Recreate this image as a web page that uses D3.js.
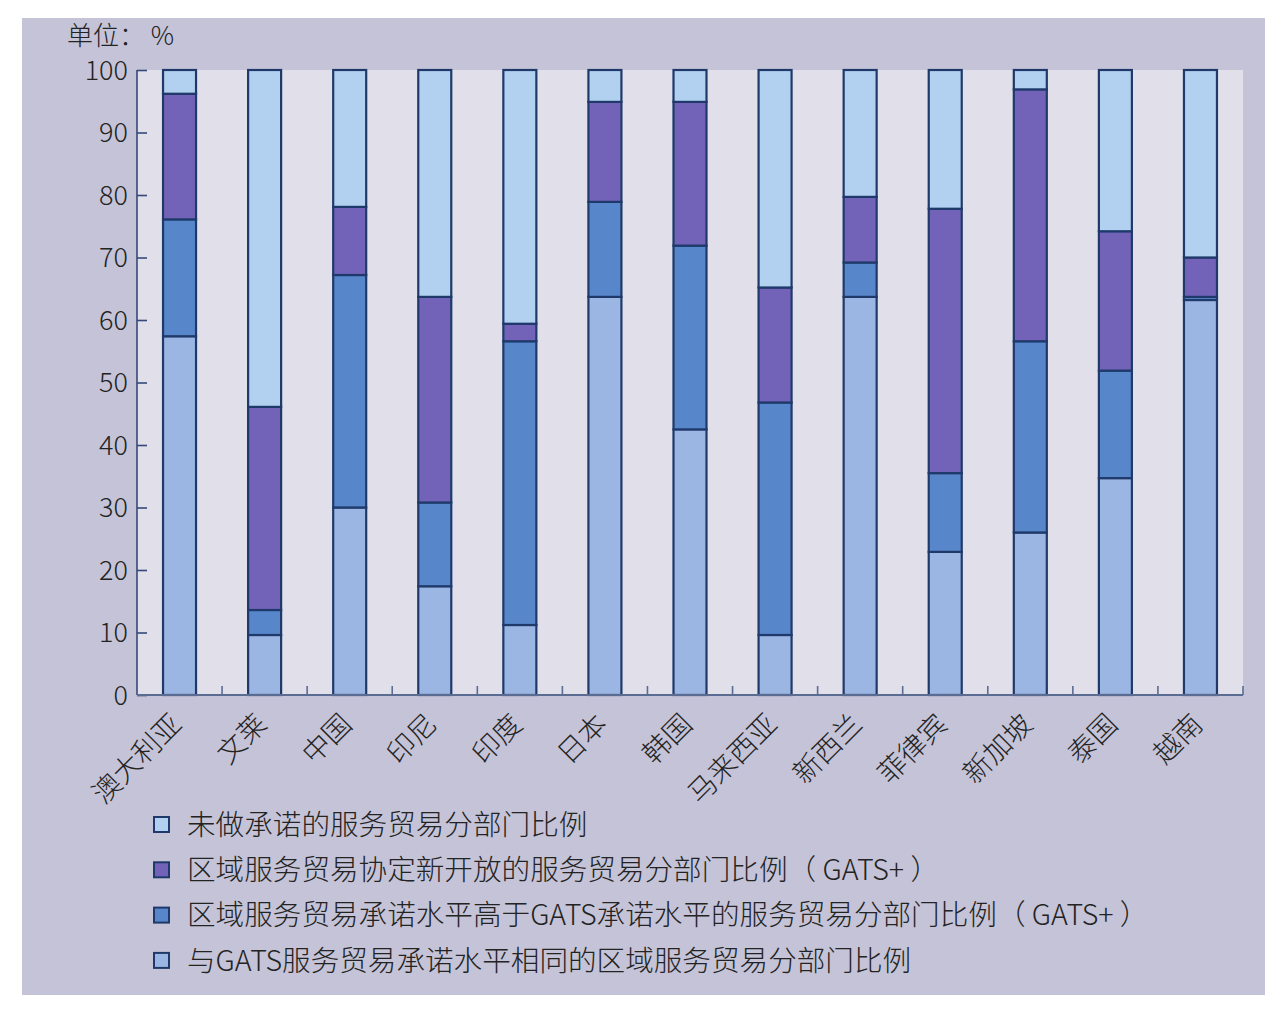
<!DOCTYPE html>
<html><head><meta charset="utf-8">
<script src="https://cdn.jsdelivr.net/npm/d3@7"></script>
<style>
html,body{margin:0;padding:0;background:#fff;}
svg{display:block;font-family:"Noto Sans CJK SC","Noto Sans",sans-serif;}
</style></head>
<body><svg id="c" width="1284" height="1011"></svg>
<script>
const categories = ["澳大利亚","文莱","中国","印尼","印度","日本","韩国","马来西亚","新西兰","菲律宾","新加坡","泰国","越南"];
const sameAsGATS   = [57.4, 9.6, 30.0, 17.4, 11.2, 63.7, 42.5,  9.6, 63.7, 22.9, 26.0, 34.7, 63.2];
const higherGATS   = [18.7, 4.0, 37.2, 13.4, 45.4, 15.2, 29.4, 37.2,  5.5, 12.6, 30.6, 17.2,  0.5];
const newGATSplus  = [20.1,32.5, 10.9, 32.9,  2.8, 16.0, 23.0, 18.4, 10.5, 42.3, 40.3, 22.3,  6.3];
const uncommitted  = [ 3.8,53.9, 21.9, 36.3, 40.6,  5.1,  5.1, 34.8, 20.3, 22.2,  3.1, 25.8, 30.0];
const yTicks = [0,10,20,30,40,50,60,70,80,90,100];
const seriesKeys = ["same","higher","newp","uncom"];
const seriesNames = {
  uncom: "未做承诺的服务贸易分部门比例",
  newp: "区域服务贸易协定新开放的服务贸易分部门比例（ GATS+ ）",
  higher: "区域服务贸易承诺水平高于GATS承诺水平的服务贸易分部门比例（ GATS+ ）",
  same: "与GATS服务贸易承诺水平相同的区域服务贸易分部门比例"
};
const colors = {uncom:"#b2d1f0", newp:"#7363b8", higher:"#5886cb", same:"#9cb6e3"};
const legendOrder = ["uncom","newp","higher","same"];

const table = categories.map((c,i)=>({cat:c, same:sameAsGATS[i], higher:higherGATS[i], newp:newGATSplus[i], uncom:uncommitted[i]}));

const svg = d3.select("#c");
const stroke = "#1f3a6a";
const textCol = "#232323";

svg.append("rect").attr("x",22).attr("y",18).attr("width",1243).attr("height",977).attr("fill","#c5c3d7");

const L=137, R=1243, T=70, B=695;
const x = d3.scaleBand().domain(categories).range([L,R]).padding(0);
const y = d3.scaleLinear().domain([0,100]).range([B,T]);

svg.append("rect").attr("x",L).attr("y",T).attr("width",R-L).attr("height",B-T).attr("fill","#e0dfea");

const stack = d3.stack().keys(seriesKeys)(table);
const bw = 33;
const g = svg.append("g");
stack.forEach(layer=>{
  g.selectAll(null).data(layer).enter().append("rect")
   .attr("x",d=>x(d.data.cat)+x.bandwidth()/2-bw/2)
   .attr("y",d=>y(d[1]))
   .attr("width",bw)
   .attr("height",d=>y(d[0])-y(d[1]))
   .attr("fill",colors[layer.key])
   .attr("stroke",stroke).attr("stroke-width",2.2);
});

// y axis
const ya = svg.append("g").attr("transform",`translate(${L},0)`)
  .call(d3.axisRight(y).tickValues(yTicks).tickSize(10).tickFormat(""));
ya.select(".domain").attr("stroke","#34497a").attr("stroke-width",1.6).attr("d",`M0,${T}V${B}`);
ya.selectAll(".tick line").attr("stroke","#34497a").attr("stroke-width",1.6);
svg.append("g").selectAll("text").data(yTicks).enter().append("text")
  .attr("x",128).attr("y",d=>y(d)).attr("dy","0.36em").attr("text-anchor","end")
  .attr("font-size",27).attr("font-weight",300).attr("fill",textCol).text(d=>d);

// x axis
svg.append("line").attr("x1",L).attr("x2",R).attr("y1",B).attr("y2",B).attr("stroke","#5b6c92").attr("stroke-width",1.8);
const bounds = categories.map(c=>x(c)).slice(1).concat([R]);
svg.append("g").selectAll("line").data(bounds).enter().append("line")
  .attr("x1",d=>d).attr("x2",d=>d).attr("y1",B).attr("y2",B-9).attr("stroke","#5b6c92").attr("stroke-width",1.6);
svg.append("g").selectAll("text").data(categories).enter().append("text")
  .attr("transform",d=>`translate(${x(d)+x.bandwidth()/2-3},${B+24}) rotate(-45)`)
  .attr("text-anchor","end").attr("dy","0.35em")
  .attr("font-size",28).attr("font-weight",300).attr("fill",textCol).text(d=>d);

// unit
svg.append("text").attr("x",67).attr("y",45).attr("font-size",26).attr("font-weight",300).attr("fill",textCol).text("单位： %");

// legend
const lg = svg.append("g").selectAll("g").data(legendOrder).enter().append("g")
  .attr("transform",(d,i)=>`translate(154,${817+i*45.3})`);
lg.append("rect").attr("width",15).attr("height",15).attr("fill",d=>colors[d]).attr("stroke",stroke).attr("stroke-width",2);
lg.append("text").attr("x",33).attr("y",7.5).attr("dy","0.36em").attr("font-size",28.6).attr("font-weight",300).attr("fill",textCol).text(d=>seriesNames[d]);
</script></body></html>
